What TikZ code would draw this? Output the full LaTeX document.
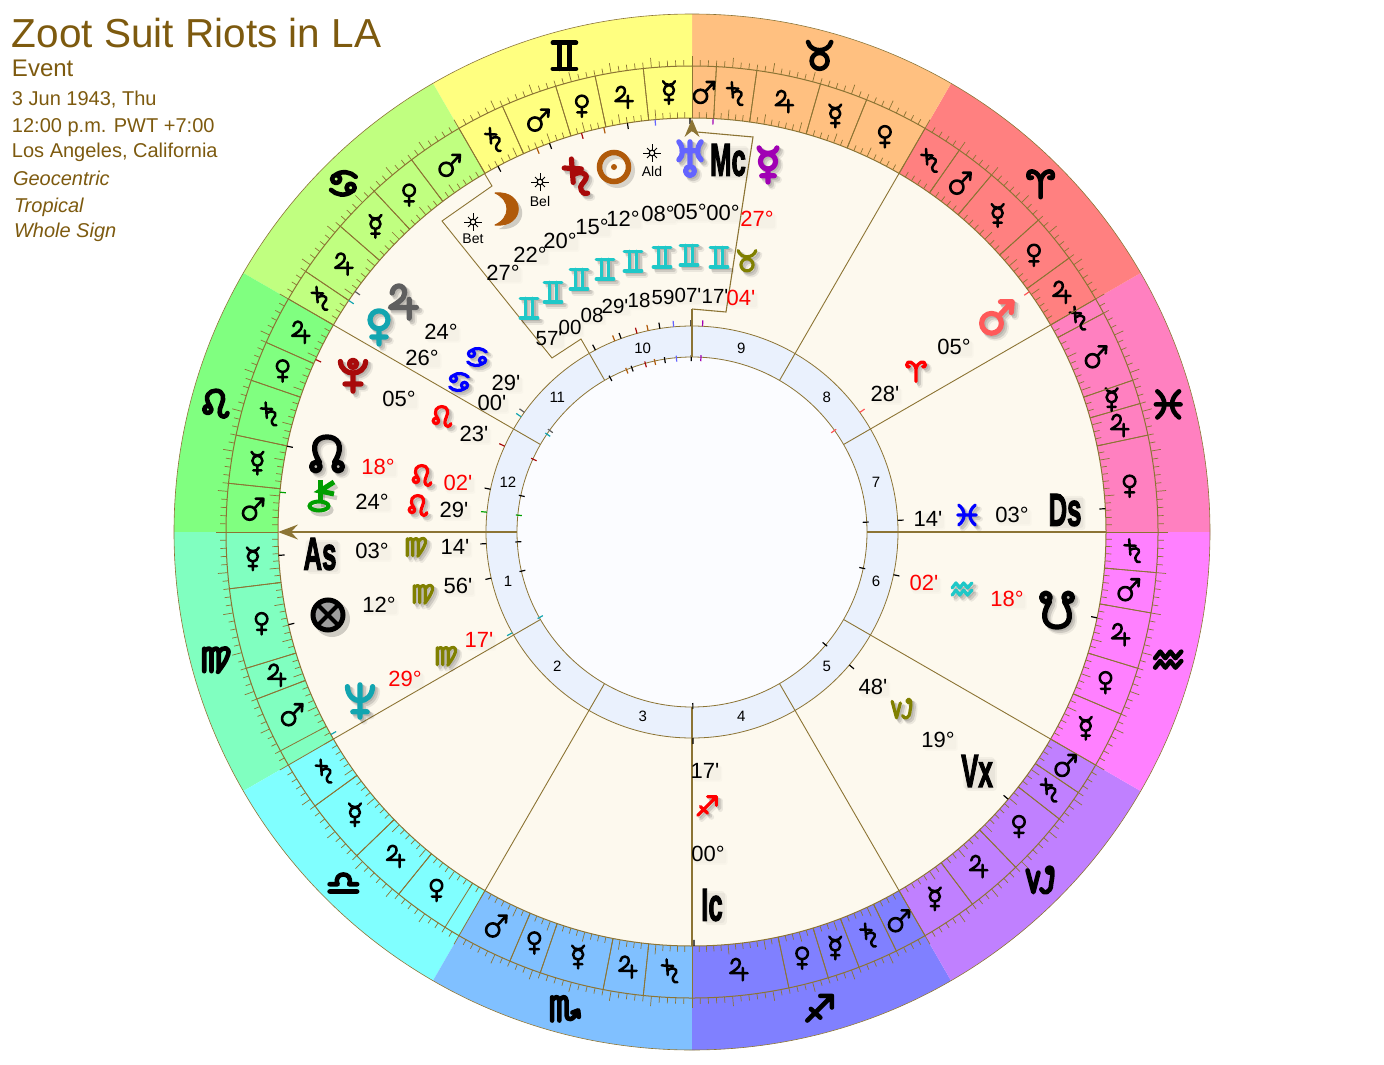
\documentclass[tikz,border=0pt]{standalone}
\usepackage{fontspec}
\usepackage{graphicx}
\setmainfont{Liberation Sans}[Ligatures=TeXOff]
\newfontfamily\angf[FakeBold=3]{Liberation Sans Bold}
\definecolor{bline}{HTML}{8C7434}
\definecolor{titlec}{HTML}{7D5A0F}
\definecolor{creamc}{HTML}{FDF9EE}
\definecolor{ringc}{HTML}{EAF1FD}
\definecolor{corec}{HTML}{FBFCFF}
\definecolor{brownc}{HTML}{B05A0A}
\definecolor{darkred}{HTML}{A80A0A}
\definecolor{gemc}{HTML}{1FC8C8}
\definecolor{olivec}{HTML}{808000}
\definecolor{tealc}{HTML}{12A5B0}
\definecolor{urac}{HTML}{6464FF}
\definecolor{merc}{HTML}{A000B4}
\definecolor{jupc}{HTML}{5F5F5F}
\definecolor{marc}{HTML}{FF5A5A}
\newcommand\fsz[1]{\fontsize{#1}{#1}\selectfont}
\newcommand\angtxt[1]{\scalebox{.56}[1]{#1}}
% glyph outlines, unit box, y up
\def\gAri{(0,-.95)--(0,.15) (0,.15) .. controls (-.1,.85) and (-.85,1.05) .. (-.85,.55) .. controls (-.85,.35) and (-.7,.3) .. (-.6,.4) (0,.15) .. controls (.1,.85) and (.85,1.05) .. (.85,.55) .. controls (.85,.35) and (.7,.3) .. (.6,.4)}
\def\gTau{(0,-.35) circle[radius=.55] (-.8,.95) .. controls (-.6,.2) and (.6,.2) .. (.8,.95)}
\def\gGem{(-.8,.9)--(.8,.9) (-.8,-.9)--(.8,-.9) (-.35,.9)--(-.35,-.9) (.35,.9)--(.35,-.9)}
\def\gCan{(-.5,.3) circle[radius=.28] (-.55,.58) .. controls (-.1,.9) and (.5,.8) .. (.85,.45) (.5,-.3) circle[radius=.28] (.55,-.58) .. controls (.1,-.9) and (-.5,-.8) .. (-.85,-.45)}
\def\gLeo{(-.55,-.35) circle[radius=.25] (-.38,-.15) .. controls (-.9,.6) and (-.4,.95) .. (0,.95) .. controls (.55,.95) and (.6,.4) .. (.4,0) .. controls (.2,-.4) and (.2,-.85) .. (.55,-.85) .. controls (.7,-.85) and (.8,-.7) .. (.8,-.6)}
\def\gVir{(-.8,.75)--(-.8,-.8) (-.8,.55) .. controls (-.55,.85) and (-.35,.85) .. (-.3,.5) -- (-.3,-.8) (-.3,.55) .. controls (-.05,.85) and (.15,.85) .. (.2,.5) -- (.2,-.8) (.2,.5) .. controls (.5,.95) and (1,.85) .. (.85,.35) .. controls (.7,-.15) and (.4,-.5) .. (.15,-.85)}
\def\gLib{(-.95,-.75)--(.95,-.75) (-.95,-.25)--(-.4,-.25) .. controls (-.75,.65) and (.75,.65) .. (.4,-.25) -- (.95,-.25)}
\def\gSco{(-.85,.75)--(-.85,-.85) (-.85,.55) .. controls (-.6,.85) and (-.4,.85) .. (-.35,.5) -- (-.35,-.85) (-.35,.55) .. controls (-.1,.85) and (.1,.85) .. (.15,.5) -- (.15,-.5) .. controls (.15,-.85) and (.6,-.9) .. (.9,-.25) (.55,-.3)--(.95,-.15)--(1,-.6)}
\def\gSag{(-.85,-.85)--(.8,.8) (.05,.85)--(.85,.85)--(.85,.05) (-.6,-.05)--(.05,-.65)}
\def\gCap{(-.9,.7)--(-.5,-.8)--(-.15,.55) (.62,.72) circle[radius=.18] (.8,.7) .. controls (.85,.2) and (.72,-.1) .. (.72,-.3) .. controls (.72,-.8) and (.2,-1) .. (.05,-.6)}
\def\gAqu{(-.9,.1)--(-.55,.55)--(-.2,.1)--(.15,.55)--(.5,.1)--(.9,.55) (-.9,-.55)--(-.55,-.1)--(-.2,-.55)--(.15,-.1)--(.5,-.55)--(.9,-.1)}
\def\gPis{(-.75,.9) .. controls (-.1,.4) and (-.1,-.4) .. (-.75,-.9) (.75,.9) .. controls (.1,.4) and (.1,-.4) .. (.75,-.9) (-.85,0)--(.85,0)}
\def\gJup{(-.55,.5) .. controls (-.5,1) and (.15,1.05) .. (.15,.5) .. controls (.15,.15) and (-.35,-.1) .. (-.65,-.3) -- (.8,-.3) (.4,.15)--(.4,-.9)}
\def\gSat{(-.2,1)--(-.1,-.3) (-.6,.5)--(.35,.45) (-.12,.1) .. controls (.2,.35) and (.75,.25) .. (.6,-.1) .. controls (.5,-.35) and (.2,-.45) .. (.35,-.75) .. controls (.4,-.9) and (.55,-.95) .. (.7,-.9)}
\def\gVen{(0,.4) circle[radius=.5] (0,-.1)--(0,-.95) (-.4,-.55)--(.4,-.55)}
\def\gMar{(-.25,-.35) circle[radius=.55] (.15,.05)--(.85,.8) (.25,.85)--(.9,.85)--(.85,.25)}
\def\gMer{(0,.2) circle[radius=.42] (-.5,.95) .. controls (-.4,.55) and (.4,.55) .. (.5,.95) (0,-.22)--(0,-.95) (-.35,-.6)--(.35,-.6)}
\def\gUra{(0,.9)--(0,-.45) (0,-.72) circle[radius=.25] (-.62,.9) .. controls (-.35,.55) and (-.35,.15) .. (-.62,-.1) (.62,.9) .. controls (.35,.55) and (.35,.15) .. (.62,-.1) (-.45,.4)--(.45,.4)}
\def\gNep{(-.7,.8) .. controls (-.65,-.25) and (.65,-.25) .. (.7,.8) (0,.9)--(0,-.9) (-.4,-.6)--(.4,-.6)}
\def\gPlu{(0,.62) circle[radius=.2] (-.7,.75) .. controls (-.65,-.1) and (.65,-.1) .. (.7,.75) (0,.1)--(0,-.9) (-.45,-.5)--(.45,-.5)}
\def\gNN{(-.42,-.45) .. controls (-1,.5) and (-.55,.95) .. (0,.95) .. controls (.55,.95) and (1,.5) .. (.42,-.45) (-.62,-.7) circle[radius=.24] (.62,-.7) circle[radius=.24]}
\def\gSN{(-.42,.45) .. controls (-1,-.5) and (-.55,-.95) .. (0,-.95) .. controls (.55,-.95) and (1,-.5) .. (.42,.45) (-.62,.7) circle[radius=.24] (.62,.7) circle[radius=.24]}
% #1 outline, #2 position, #3 scale, #4 stroke, #5 colour
\newcommand\gl[5]{\begin{scope}[shift={(#2)},x=#3pt,y=#3pt,line cap=round,line join=round]
  \draw[#5,line width=#4pt] #1;
\end{scope}}
% same, with soft drop shadow
\newcommand\gls[5]{\begin{scope}[shift={(#2)},x=#3pt,y=#3pt,line cap=round,line join=round]
  \draw[black,opacity=.07,line width=#4pt+2pt,xshift=4pt,yshift=-4pt] #1;
  \draw[black,opacity=.12,line width=#4pt+.6pt,xshift=3pt,yshift=-3pt] #1;
  \draw[black,opacity=.10,line width=#4pt,xshift=1.5pt,yshift=-1.5pt] #1;
  \draw[#5,line width=#4pt] #1;
\end{scope}}
\newcommand\smallsg[3]{\gls{#1}{#2}{11}{3.2}{#3}}
\newcommand\bigpl[3]{\gls{#1}{#2}{18}{5.2}{#3}}
\newcommand\starmark[2]{%
  \begin{scope}[shift={(#1,#2)}]
    \foreach \t in {0,90,180,270}{\draw[black,line width=.9pt] (0,0) -- ++(\t:9);}
    \foreach \t in {45,135,225,315}{\draw[black,line width=.9pt] (0,0) -- ++(\t:7);}
    \draw[black,fill=creamc,line width=1.1pt] (0,0) circle[radius=2.8pt];
  \end{scope}}
\tikzset{
  haze/.style={rounded corners=2pt,
    preaction={fill=black,fill opacity=.015,transform canvas={shift={(1.5pt,-1.5pt)}}},
    preaction={fill=black,fill opacity=.015,transform canvas={shift={(3pt,-3pt)}}}},
  hazeb/.style={rounded corners=3pt,
    preaction={fill=black,fill opacity=.04,transform canvas={shift={(2pt,-2pt)}}},
    preaction={fill=black,fill opacity=.04,transform canvas={shift={(4pt,-4pt)}}}},
  base/.style={inner sep=0pt,outer sep=0pt},
  deg/.style={base,haze,font=\fsz{22},text=black},
  rd/.style={base,haze,font=\fsz{22},text=red},
  mins/.style={base,haze,font=\fsz{20.5},text=black},
  hnum/.style={base,font=\fsz{15},text=black},
  starlab/.style={base,font=\fsz{14},text=black},
  angle/.style={base,hazeb,font=\angf\fsz{46},text=black},
  info/.style={base,anchor=base west,text=titlec},
  hline/.style={bline,line width=.9pt},
  axis/.style={bline,line width=1.8pt},
}
\newcommand\tgV{\gl{\gVen}{\am:440}{11.5}{2.5}{black}}
\newcommand\tgM{\gl{\gMar}{\am:440}{12}{2.6}{black}}
\newcommand\tgH{\gl{\gMer}{\am:440}{12}{2.5}{black}}
\newcommand\tgJ{\gl{\gJup}{\am:440}{12}{2.5}{black}}
\newcommand\tgS{\gl{\gSat}{\am:440}{12}{2.5}{black}}
\begin{document}
\begin{tikzpicture}[x=1pt,y=-1pt]
\useasboundingbox (0,0) rectangle (1384,1065);
\begin{scope}[shift={(692,532)},y=1pt]
  % zodiac sectors
  \foreach \a/\c in {0/FF80C0,30/FF8080,60/FFC080,90/FFFF80,120/C0FF80,150/80FF80,180/80FFC0,210/80FFFF,240/80C0FF,270/8080FF,300/C080FF,330/FF80FF}{
    \definecolor{sec}{HTML}{\c}
    \pgfmathsetmacro\e{\a+30}
    \fill[sec] (0,0) -- (\a:518) arc[start angle=\a,end angle=\e,radius=518pt] -- cycle;
  }
  \draw[bline,line width=.6pt] (0,0) circle[radius=518pt];
  % degree ticks
  \foreach \d in {0,...,359}{
    \pgfmathsetmacro\tl{mod(\d,5)==0?10:6}
    \draw[bline,line width=.7pt] (\d:414) -- (\d:414+\tl);
    \draw[bline,line width=.7pt] (\d:466) -- (\d:466+\tl);
  }
  \draw[bline,line width=1pt] (0,0) circle[radius=466pt];
  \fill[creamc] (0,0) circle[radius=414pt];
  \draw[bline,line width=1pt] (0,0) circle[radius=414pt];
  \fill[ringc] (0,0) circle[radius=206pt];
  \draw[bline,line width=.8pt] (0,0) circle[radius=206pt];
  \fill[corec] (0,0) circle[radius=175pt];
  \draw[bline,line width=.8pt] (0,0) circle[radius=175pt];
  % terms
  \foreach \b/\lst in {
    0/{0/12/V,12/16/J,16/19/H,19/28/M,28/30/S},
    30/{0/6/J,6/12/V,12/20/H,20/25/M,25/30/S},
    60/{0/8/V,8/14/H,14/22/J,22/27/S,27/30/M},
    90/{0/6/H,6/12/J,12/17/V,17/24/M,24/30/S},
    120/{0/7/M,7/13/V,13/19/H,19/26/J,26/30/S},
    150/{0/6/J,6/11/V,11/18/S,18/24/H,24/30/M},
    180/{0/7/H,7/17/V,17/21/J,21/28/M},
    210/{0/6/S,6/14/H,14/21/J,21/28/V},
    240/{0/7/M,7/11/V,11/19/H,19/24/J,24/30/S},
    270/{0/12/J,12/17/V,17/21/H,21/26/S,26/30/M},
    300/{0/7/H,7/14/J,14/22/V,22/26/S,26/30/M},
    330/{0/7/H,7/13/V,13/20/J,20/25/M,25/30/S}}{
    \foreach \p/\q/\g in \lst {
      \pgfmathsetmacro\aa{\b+\p}
      \pgfmathsetmacro\ab{\b+\q}
      \pgfmathsetmacro\am{\b+(\p+\q)/2}
      \draw[bline,line width=.8pt] (\aa:414) -- (\aa:466);
      \draw[bline,line width=.8pt] (\ab:414) -- (\ab:466);
      \csname tg\g\endcsname
    }
  }
  % zodiac glyphs
  \foreach \a/\g in {15/\gPis,45/\gAri,75/\gTau,105/\gGem,135/\gCan,165/\gLeo,195/\gVir,225/\gLib,255/\gSco,285/\gSag,315/\gCap,345/\gAqu}{
    \gl{\g}{\a:493}{14.5}{4.6}{black}
  }
  % house lines
  \foreach \a in {30,60,150,210,240,300,330}{
    \draw[hline] (\a:175) -- (\a:414);
  }
  \draw[axis] (0:175) -- (0:414);
  \draw[axis] (270:175) -- (270:414);
  % house numbers
  \foreach \n/\a in {7/15,8/45,9/75,10/105,11/135,12/165,1/195,2/225,3/255,4/285,5/315,6/345}{
    \node[hnum] (house-\n) at (\a:190.5) {\n};
  }
  % planet ticks
  \foreach \a/\c in {117.95/000000,112/B05A0A,110.13/000000,105.48/A80A0A,102.3/B05A0A,98.98/000000,95.12/6464FF,90.28/000000,87.07/A000B4,144.48/5F5F5F,146/12A5B0,155.38/A80A0A,168.03/000000,174.48/00A000,183.23/000000,192.93/000000,209.28/12A5B0,35.47/FF5555,3.23/000000,348.03/000000,319.8/000000,270.28/000000}{
    \definecolor{tk}{HTML}{\c}
    \draw[tk,line width=1.2pt] (\a:408) -- (\a:414);
    \draw[tk,line width=1.2pt] (\a:206) -- (\a:212);
    \draw[tk,line width=1.2pt] (\a:171) -- (\a:177);
  }
\end{scope}
% bent house lines
\draw[hline] (484.5,173.5) -- (492,186) -- (442,221) -- (552,358) -- (581,339) -- (604.5,380);
\draw[axis,line width=1.4pt] (692,357) -- (692,309);
\draw[hline,line width=1.1pt] (692,309) -- (726,312) -- (753,137) -- (697,132) -- (692,131);
\draw[axis] (290,532) -- (517,532);
\fill[bline] (278,532) -- (298,524.5) -- (291,532) -- (298,539.5) -- cycle;
\fill[bline] (692,119) -- (699.5,137) -- (692,131) -- (684.5,137) -- cycle;
% info block
\node[info,font=\fsz{40.5}] (title) at (12,48) {Zoot Suit Riots in LA};
\node[info,font=\fsz{24}] (event) at (12,77) {Event};
\node[info,font=\fsz{20}] (date) at (12,105) {3 Jun 1943, Thu};
\node[info,font=\fsz{20}] (time) at (12,132) {12:00 p.m. PWT +7:00};
\node[info,font=\fsz{20}] (place) at (12,157) {Los Angeles, California};
\node[info,font=\itshape\fsz{20}] (geo) at (13,185) {Geocentric};
\node[info,font=\itshape\fsz{20}] (trop) at (14,212) {Tropical};
\node[info,font=\itshape\fsz{20}] (hs) at (14,237) {Whole Sign};
% star markers
\starmark{473}{222}
\starmark{540}{182}
\starmark{652}{153}
\node[starlab] (lbet) at (473,239) {Bet};
\node[starlab] (lbel) at (540,201) {Bel};
\node[starlab] (lald) at (652,171) {Ald};
% moon
\fill[black,opacity=.18] (499,197) .. controls (530,194) and (530,232) .. (499,229) .. controls (514,222) and (514,204) .. (499,197) -- cycle;
\filldraw[brownc,line width=1pt,line join=round] (495,193) .. controls (526,190) and (526,228) .. (495,225) .. controls (511,218) and (511,200) .. (495,193) -- cycle;
% sun
\draw[black,opacity=.15,line width=6pt] (617.5,170.5) circle[radius=14.5pt];
\draw[brownc,line width=5.5pt] (614,167) circle[radius=14.5pt];
\fill[brownc] (614,167) circle[radius=3pt];
% planets
\bigpl{\gSat}{575,177}{darkred}
\bigpl{\gUra}{690,158}{urac}
\node[angle] (mc) at (728,160) {\angtxt{Mc}};
\bigpl{\gMer}{768,165}{merc}
\bigpl{\gJup}{402,302}{jupc}
\bigpl{\gVen}{379,327}{tealc}
\bigpl{\gPlu}{353,375}{darkred}
\bigpl{\gNN}{327,454}{black}
\bigpl{\gSN}{1057,610}{black}
\bigpl{\gNep}{360,701}{tealc}
\bigpl{\gMar}{996,317}{marc}
% chiron
\begin{scope}[shift={(3,4)},black,opacity=.18,line width=4.5pt]
  \draw (320,482) -- (320,503);
  \draw (334,482) -- (320,491) -- (334,494);
  \draw[line width=4pt] (319,506) ellipse[x radius=9.5pt,y radius=4.5pt];
\end{scope}
\draw[green!62!black,line width=5pt] (320,480) -- (320,503);
\draw[green!62!black,line width=5pt] (334,482) -- (320,491) -- (334,494);
\draw[green!62!black,line width=4pt] (319,506) ellipse[x radius=9.5pt,y radius=4.5pt];
% part of fortune
\fill[black,opacity=.18] (332,619) circle[radius=18pt];
\draw[black,fill=black!38,line width=5pt] (328,615) circle[radius=15pt];
\draw[black,line width=4pt] (317.5,604.5) -- (338.5,625.5) (317.5,625.5) -- (338.5,604.5);
% angles
\node[angle] (as) at (320,554) {\angtxt{As}};
\node[angle] (ds) at (1065,510) {\angtxt{Ds}};
\node[angle] (vx) at (977,771) {\angtxt{Vx}};
\node[angle] (ic) at (712,905) {\angtxt{Ic}};
% gemini row
\node[deg] (d1) at (503,273) {27°};
\node[deg] (d2) at (530,255) {22°};
\node[deg] (d3) at (560,241) {20°};
\node[deg] (d4) at (592,227) {15°};
\node[deg] (d5) at (623,219) {12°};
\node[deg] (d6) at (658,214) {08°};
\node[deg] (d7) at (690,212) {05°};
\node[deg] (d8) at (723,213) {00°};
\node[rd] (d9) at (757,219) {27°};
\foreach \x/\y in {529/308,553/292,579/279,605/269,633/261,662/257,689/255,719/257}{
  \smallsg{\gGem}{\x,\y}{gemc}
}
\smallsg{\gTau}{747,261}{olivec}
\node[mins] (m1) at (549,339) {57'};
\node[mins] (m2) at (570,327) {00};
\node[mins] (m3) at (592,315) {08};
\node[mins] (m4) at (615,306) {29'};
\node[mins] (m5) at (639,300) {18};
\node[mins] (m6) at (663,297) {59};
\node[mins] (m7) at (688,295) {07'};
\node[mins] (m8) at (715,296) {17'};
\node[rd] (m9) at (741,298) {04'};
% left labels
\node[deg] (jd) at (441,332) {24°};
\node[deg] (vd) at (422,358) {26°};
\smallsg{\gCan}{477,357}{blue}
\smallsg{\gCan}{459,382}{blue}
\node[deg] (jm) at (506,383) {29'};
\node[deg] (vm) at (492,403) {00'};
\node[deg] (pd) at (399,399) {05°};
\smallsg{\gLeo}{442,417}{red}
\node[deg] (pm) at (474,434) {23'};
\node[rd] (nd) at (378,467) {18°};
\smallsg{\gLeo}{422,476}{red}
\node[rd] (nm) at (458,483) {02'};
\node[deg] (cd) at (372,502) {24°};
\smallsg{\gLeo}{418,506}{red}
\node[deg] (cm) at (454,510) {29'};
\node[deg] (ad) at (372,551) {03°};
\smallsg{\gVir}{416,547}{olivec}
\node[deg] (am) at (455,547) {14'};
\node[deg] (fd) at (379,605) {12°};
\smallsg{\gVir}{423,594}{olivec}
\node[deg] (fm) at (458,586) {56'};
\node[rd] (ned) at (405,679) {29°};
\smallsg{\gVir}{446,656}{olivec}
\node[rd] (nem) at (479,640) {17'};
% right labels
\node[deg] (md) at (954,347) {05°};
\smallsg{\gAri}{916,371}{red}
\node[deg] (mm) at (885,394) {28'};
\node[deg] (dd) at (1012,515) {03°};
\smallsg{\gPis}{967,515}{blue}
\node[deg] (dm) at (928,519) {14'};
\node[rd] (sd) at (1007,599) {18°};
\smallsg{\gAqu}{962,589}{gemc}
\node[rd] (sm) at (924,583) {02'};
\node[deg] (vd2) at (938,740) {19°};
\smallsg{\gCap}{902,709}{olivec}
\node[deg] (vm2) at (873,687) {48'};
\node[deg] (id) at (708,854) {00°};
\smallsg{\gSag}{707,806}{red}
\node[deg] (im) at (705,771) {17'};
\end{tikzpicture}
\end{document}
